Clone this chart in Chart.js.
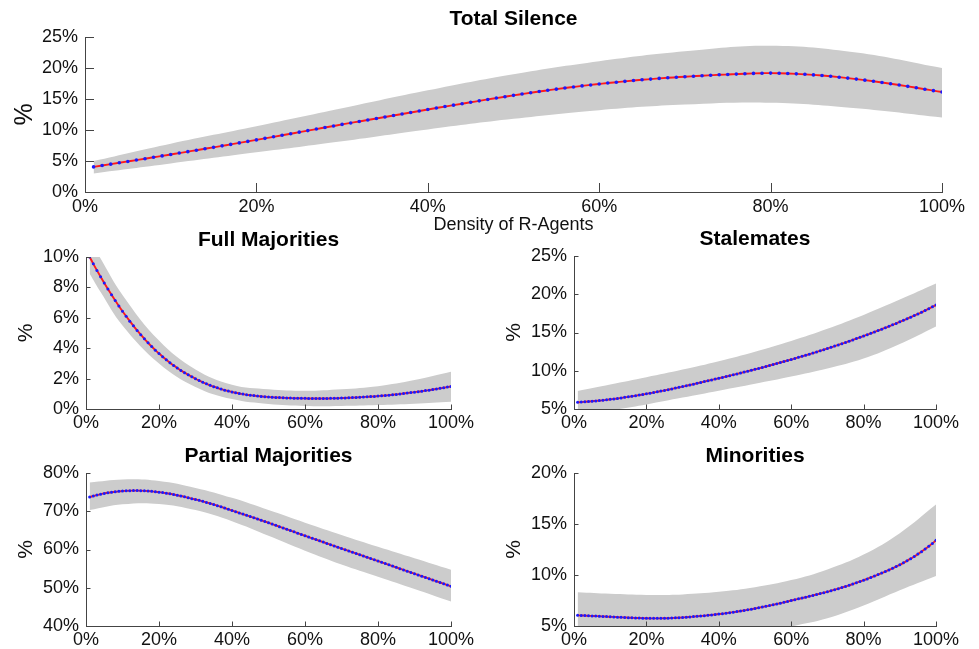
<!DOCTYPE html>
<html>
<head>
<meta charset="utf-8">
<title>Outcomes by density of R-Agents</title>
<script src="https://cdn.jsdelivr.net/npm/chart.js@4.4.1/dist/chart.umd.min.js"></script>
<style>
  html, body { margin: 0; padding: 0; background: #ffffff; overflow: hidden; }
  body { width: 979px; height: 649px; position: relative; }
  .panel { position: absolute; }
</style>
</head>
<body>
<script>
// Density of R-Agents (%) for every simulated point
const density = [
  1,2,3,4,5,6,7,8,9,10,11,12,13,14,15,16,17,18,19,20,
  21,22,23,24,25,26,27,28,29,30,31,32,33,34,35,36,37,38,39,40,
  41,42,43,44,45,46,47,48,49,50,51,52,53,54,55,56,57,58,59,60,
  61,62,63,64,65,66,67,68,69,70,71,72,73,74,75,76,77,78,79,80,
  81,82,83,84,85,86,87,88,89,90,91,92,93,94,95,96,97,98,99,100
];

// Mean outcome shares (%)
const totalSilence = [
  4.05,4.27,4.49,4.71,4.93,5.15,5.37,5.60,5.82,6.05,
  6.28,6.51,6.74,6.97,7.20,7.44,7.68,7.92,8.16,8.40,
  8.65,8.90,9.15,9.40,9.65,9.90,10.15,10.40,10.65,10.90,
  11.14,11.38,11.62,11.86,12.10,12.34,12.58,12.82,13.06,13.30,
  13.54,13.78,14.01,14.24,14.47,14.70,14.93,15.15,15.37,15.59,
  15.80,16.01,16.21,16.40,16.59,16.77,16.94,17.11,17.27,17.42,
  17.57,17.71,17.85,17.98,18.10,18.21,18.32,18.42,18.51,18.60,
  18.68,18.76,18.83,18.90,18.96,19.02,19.08,19.13,19.16,19.18,
  19.16,19.12,19.06,18.98,18.89,18.78,18.66,18.52,18.37,18.21,
  18.04,17.86,17.67,17.47,17.26,17.04,16.81,16.58,16.35,16.12
];
const fullMajorities = [
  10.00,9.55,9.12,8.70,8.29,7.89,7.51,7.14,6.78,6.43,
  6.10,5.78,5.47,5.17,4.89,4.62,4.36,4.11,3.87,3.65,
  3.44,3.24,3.05,2.87,2.70,2.54,2.39,2.25,2.12,1.99,
  1.87,1.76,1.66,1.56,1.47,1.39,1.31,1.24,1.18,1.12,
  1.07,1.02,0.98,0.94,0.91,0.88,0.85,0.83,0.81,0.79,
  0.77,0.76,0.75,0.74,0.73,0.72,0.71,0.71,0.70,0.70,
  0.69,0.69,0.69,0.69,0.69,0.69,0.70,0.70,0.71,0.72,
  0.73,0.74,0.75,0.76,0.77,0.79,0.80,0.82,0.83,0.85,
  0.87,0.89,0.91,0.94,0.96,0.99,1.02,1.05,1.08,1.11,
  1.14,1.17,1.21,1.24,1.28,1.32,1.36,1.40,1.44,1.48
];
const stalemates = [
  5.87,5.90,5.94,5.98,6.02,6.06,6.10,6.15,6.20,6.26,
  6.32,6.38,6.45,6.52,6.59,6.66,6.74,6.82,6.90,6.98,
  7.07,7.16,7.25,7.34,7.43,7.53,7.63,7.73,7.83,7.93,
  8.03,8.14,8.25,8.36,8.47,8.58,8.69,8.80,8.91,9.02,
  9.13,9.24,9.35,9.47,9.59,9.71,9.83,9.95,10.07,10.19,
  10.31,10.43,10.56,10.69,10.82,10.95,11.08,11.21,11.34,11.47,
  11.61,11.75,11.89,12.03,12.17,12.31,12.46,12.61,12.76,12.91,
  13.06,13.22,13.38,13.54,13.70,13.86,14.03,14.20,14.37,14.54,
  14.71,14.89,15.07,15.25,15.43,15.62,15.81,16.00,16.19,16.39,
  16.59,16.79,17.00,17.21,17.42,17.64,17.88,18.11,18.35,18.60
];
const partialMajorities = [
  73.70,73.98,74.23,74.46,74.66,74.83,74.98,75.10,75.20,75.28,
  75.34,75.38,75.40,75.40,75.38,75.34,75.28,75.20,75.11,75.00,
  74.87,74.72,74.56,74.38,74.19,73.99,73.77,73.54,73.30,73.10,
  72.85,72.59,72.32,72.04,71.75,71.46,71.16,70.85,70.53,70.21,
  69.89,69.57,69.25,68.93,68.61,68.29,67.97,67.65,67.32,66.99,
  66.65,66.31,65.97,65.63,65.29,64.95,64.61,64.27,63.93,63.59,
  63.25,62.92,62.59,62.26,61.93,61.60,61.27,60.94,60.61,60.28,
  59.95,59.62,59.29,58.96,58.63,58.30,57.97,57.64,57.31,56.98,
  56.65,56.32,55.99,55.66,55.33,55.00,54.67,54.34,54.01,53.68,
  53.35,53.02,52.69,52.36,52.03,51.70,51.37,51.04,50.71,50.38
];
const minorities = [
  6.05,6.03,6.02,6.00,5.99,5.97,5.96,5.94,5.92,5.90,
  5.89,5.87,5.85,5.84,5.82,5.81,5.79,5.78,5.77,5.76,
  5.75,5.75,5.75,5.75,5.76,5.77,5.78,5.80,5.82,5.84,
  5.86,5.89,5.92,5.95,5.98,6.01,6.05,6.09,6.13,6.17,
  6.21,6.26,6.31,6.36,6.41,6.47,6.53,6.59,6.65,6.72,
  6.79,6.86,6.93,7.00,7.08,7.16,7.24,7.32,7.41,7.50,
  7.58,7.66,7.74,7.82,7.91,8.00,8.09,8.18,8.27,8.36,
  8.46,8.56,8.66,8.77,8.88,8.99,9.11,9.23,9.36,9.49,
  9.62,9.76,9.90,10.04,10.19,10.34,10.50,10.66,10.83,11.00,
  11.19,11.39,11.60,11.82,12.05,12.29,12.55,12.82,13.10,13.40
];

// Spread bands (upper / lower bounds, %) sampled along the density axis
const tsBandX = [1,10,20,30,40,50,60,70,80,90,100];
const tsUpper = [5.0,7.8,10.6,13.5,16.4,19.0,21.1,22.7,23.6,22.5,20.0];
const tsLower = [3.0,4.6,6.4,8.2,10.1,11.8,13.2,14.1,14.4,13.5,12.0];

const fmBandX = [1,4,10,20,30,40,50,60,70,80,90,100];
const fmUpper = [11.2,9.9,7.5,4.5,2.6,1.6,1.3,1.2,1.3,1.5,1.9,2.45];
const fmLower = [8.9,7.7,5.5,3.0,1.45,0.65,0.33,0.2,0.2,0.26,0.35,0.48];

const stBandX = [1,10,20,30,40,50,60,70,80,90,100];
const stUpper = [7.35,8.2,9.15,10.15,11.25,12.5,13.9,15.5,17.3,19.3,21.4];
const stLower = [4.1,4.8,5.6,6.5,7.4,8.3,9.25,10.3,11.6,13.5,15.8];

const pmBandX = [1,10,20,30,40,50,60,70,80,90,100];
const pmUpper = [77.5,78.3,77.9,76.1,73.5,70.3,67.0,63.8,60.7,57.7,54.7];
const pmLower = [70.3,71.8,71.9,70.3,67.4,63.6,59.7,56.1,52.9,49.7,46.4];

const miBandX = [1,10,20,30,40,50,60,70,80,90,100];
const miUpper = [8.3,8.15,8.05,8.1,8.35,8.8,9.5,10.55,12.0,14.1,16.9];
const miLower = [3.7,3.6,3.45,3.5,3.7,4.2,4.95,5.75,7.0,8.5,9.9];

// Axis ticks
const xTicks = { min: 0, max: 100, step: 20 };
const tsTicks = { min: 0, max: 25, step: 5 };
const fmTicks = { min: 0, max: 10, step: 2 };
const stTicks = { min: 5, max: 25, step: 5 };
const pmTicks = { min: 40, max: 80, step: 10 };
const miTicks = { min: 5, max: 20, step: 5 };

Chart.defaults.font.family = "'Liberation Sans', Arial, Helvetica, sans-serif";
Chart.defaults.color = '#111111';

const AXIS_COLOR = '#444444';
const BAND_COLOR = '#cccccc';
const LINE_COLOR = '#ff1a1a';
const DOT_COLOR = '#1a1aff';

// Short tick marks pointing into the plot area
const inwardTicks = {
  id: 'inwardTicks',
  afterDatasetsDraw(chart, args, opts) {
    const { ctx, chartArea: a, scales } = chart;
    const xs = scales.x, ys = scales.y;
    ctx.save();
    ctx.strokeStyle = opts.color;
    ctx.lineWidth = 1;
    ctx.beginPath();
    xs.ticks.forEach(t => {
      const px = Math.round(xs.getPixelForValue(t.value)) + 0.5;
      ctx.moveTo(px, a.bottom);
      ctx.lineTo(px, a.bottom - opts.length);
    });
    ys.ticks.forEach(t => {
      const py = Math.round(ys.getPixelForValue(t.value)) + 0.5;
      ctx.moveTo(a.left, py);
      ctx.lineTo(a.left + opts.length, py);
    });
    ctx.stroke();
    ctx.restore();
  }
};

function points(xs, ys) {
  return xs.map((x, i) => ({ x: x, y: ys[i] }));
}

const Y_AXIS_W = 80;
const RIGHT_PAD = 30;

function makePanel(p) {
  const div = document.createElement('div');
  div.className = 'panel';
  const w = p.box.R - p.box.L + Y_AXIS_W + RIGHT_PAD;
  const h = p.box.B - p.box.T + p.titleH + p.axisH;
  div.style.left = (p.box.L - Y_AXIS_W) + 'px';
  div.style.top = (p.box.T - p.titleH) + 'px';
  div.style.width = w + 'px';
  div.style.height = h + 'px';
  const cv = document.createElement('canvas');
  cv.width = w; cv.height = h;
  cv.style.width = w + 'px'; cv.style.height = h + 'px';
  div.appendChild(cv);
  document.body.appendChild(div);

  new Chart(cv, {
    type: 'line',
    data: {
      datasets: [
        {
          label: 'upper',
          data: points(p.bandX, p.upper),
          borderWidth: 0, pointRadius: 0,
          backgroundColor: BAND_COLOR,
          fill: '+1',
          tension: 0.4,
          order: 3
        },
        {
          label: 'lower',
          data: points(p.bandX, p.lower),
          borderWidth: 0, pointRadius: 0,
          backgroundColor: BAND_COLOR,
          fill: false,
          tension: 0.4,
          order: 3
        },
        {
          label: 'fit',
          data: points(density, p.values),
          borderColor: LINE_COLOR,
          borderWidth: 1.9,
          pointRadius: 0,
          fill: false,
          cubicInterpolationMode: 'monotone',
          order: 1
        },
        {
          label: 'mean',
          data: points(density, p.values),
          showLine: false,
          pointRadius: p.dotR,
          pointBackgroundColor: DOT_COLOR,
          pointBorderWidth: 0,
          fill: false,
          order: 0
        }
      ]
    },
    options: {
      responsive: false,
      animation: false,
      devicePixelRatio: 1,
      events: [],
      layout: { padding: { left: 0, right: RIGHT_PAD, top: 0, bottom: 0 } },
      plugins: {
        legend: { display: false },
        tooltip: { enabled: false },
        title: {
          display: true,
          text: p.title,
          fullSize: false,
          color: '#000000',
          font: { size: 21, weight: 'bold' },
          padding: p.titlePad
        },
        inwardTicks: { length: p.tickLen, color: AXIS_COLOR }
      },
      scales: {
        x: {
          type: 'linear',
          min: xTicks.min, max: xTicks.max,
          grid: { display: false, drawTicks: false, drawOnChartArea: false },
          border: { display: true, color: AXIS_COLOR, width: 1 },
          ticks: {
            stepSize: xTicks.step, maxRotation: 0, autoSkip: false,
            padding: p.xTickPad,
            font: { size: 18 },
            callback: v => v + '%'
          },
          title: p.xTitle ? {
            display: true, text: p.xTitle,
            font: { size: 18 },
            padding: { top: 0, bottom: 2 }
          } : { display: false },
          afterFit: s => { s.height = p.axisH; }
        },
        y: {
          type: 'linear',
          min: p.yTicks.min, max: p.yTicks.max,
          grid: { display: false, drawTicks: false, drawOnChartArea: false },
          border: { display: true, color: AXIS_COLOR, width: 1 },
          ticks: {
            stepSize: p.yTicks.step, autoSkip: false,
            padding: 7,
            font: { size: 18 },
            callback: v => v + '%'
          },
          title: {
            display: true, text: '%',
            font: { size: p.yTitleSize },
            padding: { top: p.yTitlePad, bottom: 0 }
          },
          afterFit: s => { s.width = Y_AXIS_W; }
        }
      }
    },
    plugins: [inwardTicks]
  });
}

makePanel({
  title: 'Total Silence', box: { L: 85, T: 37, R: 942, B: 192 },
  titleH: 37, titlePad: { top: 6.4, bottom: 5.4 }, axisH: 46,
  xTitle: 'Density of R-Agents', xTickPad: 4,
  yTicks: tsTicks, yTitleSize: 25, yTitlePad: 5, tickLen: 9, dotR: 1.8,
  values: totalSilence, bandX: tsBandX, upper: tsUpper, lower: tsLower
});
makePanel({
  title: 'Full Majorities', box: { L: 86, T: 257, R: 451, B: 409 },
  titleH: 30, titlePad: { top: 0.4, bottom: 4.4 }, axisH: 26,
  xTickPad: 3,
  yTicks: fmTicks, yTitleSize: 21, yTitlePad: 7.4, tickLen: 4.5, dotR: 1.5,
  values: fullMajorities, bandX: fmBandX, upper: fmUpper, lower: fmLower
});
makePanel({
  title: 'Stalemates', box: { L: 574, T: 256, R: 936, B: 409 },
  titleH: 30, titlePad: { top: 0.4, bottom: 4.4 }, axisH: 26,
  xTickPad: 3,
  yTicks: stTicks, yTitleSize: 21, yTitlePad: 7.4, tickLen: 4.5, dotR: 1.5,
  values: stalemates, bandX: stBandX, upper: stUpper, lower: stLower
});
makePanel({
  title: 'Partial Majorities', box: { L: 86, T: 473, R: 451, B: 626 },
  titleH: 30, titlePad: { top: 0.4, bottom: 4.4 }, axisH: 26,
  xTickPad: 3,
  yTicks: pmTicks, yTitleSize: 21, yTitlePad: 7.4, tickLen: 4.5, dotR: 1.5,
  values: partialMajorities, bandX: pmBandX, upper: pmUpper, lower: pmLower
});
makePanel({
  title: 'Minorities', box: { L: 574, T: 473, R: 936, B: 626 },
  titleH: 30, titlePad: { top: 0.4, bottom: 4.4 }, axisH: 26,
  xTickPad: 3,
  yTicks: miTicks, yTitleSize: 21, yTitlePad: 7.4, tickLen: 4.5, dotR: 1.5,
  values: minorities, bandX: miBandX, upper: miUpper, lower: miLower
});
</script>
</body>
</html>
